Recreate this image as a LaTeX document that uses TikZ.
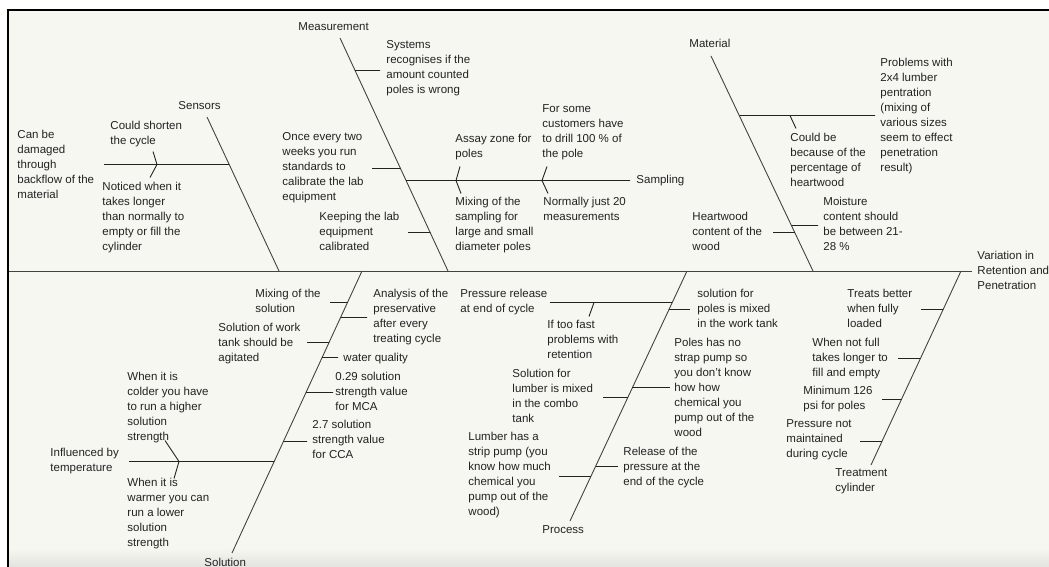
\documentclass[tikz,border=0pt]{standalone}
\usepackage{fontspec}
\setmainfont{Liberation Sans}
\usetikzlibrary{positioning}
\definecolor{paper}{HTML}{F7F7F2}
\definecolor{ink}{HTML}{222222}
% twig from (x,y) across to the bone #1 at the same height
\newcommand{\twig}[3]{\draw[twig] (#2,#3) -- (intersection of #1A--#1B and 0,#3--1,#3);}

\begin{document}
\begin{tikzpicture}[x=1pt, y=-1pt, font=\fontsize{11.5}{15}\selectfont, line width=.9pt,
    lbl/.style={anchor=north west, yshift=4.5pt, inner sep=0pt, align=left, text=ink},
    bone/.style={draw=ink!85},
    twig/.style={draw=ink, yshift=-.5pt}]
  \useasboundingbox (0,0) rectangle (1049,567);
  \fill[paper] (8,10) rectangle (1049,567);
  \shade[top color=paper, bottom color=paper!92!black] (9,548) rectangle (1049,567);
  \draw[black, line width=2pt] (7,10) -- (1049,10);
  \draw[black, line width=2pt] (8,10) -- (8,567);

  % spine and bones
  \coordinate (tail) at (9,271);
  \coordinate (head) at (972,271);
  \coordinate (senA) at (207,117);  \coordinate (senB) at (279,271);
  \coordinate (meaA) at (340,38);   \coordinate (meaB) at (448,271);
  \coordinate (matA) at (711,56);   \coordinate (matB) at (813,271);
  \coordinate (solA) at (232,553);  \coordinate (solB) at (362,271);
  \coordinate (proA) at (570,521);  \coordinate (proB) at (687,271);
  \coordinate (trtA) at (871,465);  \coordinate (trtB) at (961,271);
  \draw[bone, yshift=-.5pt] (tail) -- (head);
  \foreach \b in {sen,mea,mat,sol,pro,trt}
    \draw[bone] (\b A) -- (\b B);

  \node[lbl] (effect) at (977,255) {Variation in\\Retention and\\Penetration};

  % Sensors
  \node[lbl] (sensors) at (178,106) {Sensors};
  \node[lbl] (backflow) at (17,134) {Can be\\damaged\\through\\backflow of the\\material};
  \node[lbl] (shorten) at (110,125) {Could shorten\\the cycle};
  \node[lbl] (noticed) at (102,186) {Noticed when it\\takes longer\\than normally to\\empty or fill the\\cylinder};
  \twig{sen}{104}{164}
  \draw[twig] (153,151) -- (157,164) -- (150,177);

  % Measurement
  \node[lbl] (measure) at (298,27) {Measurement};
  \node[lbl] (counted) at (386,45) {Systems\\recognises if the\\amount counted\\poles is wrong};
  \node[lbl] (twoweeks) at (282,137) {Once every two\\weeks you run\\standards to\\calibrate the lab\\equipment};
  \node[lbl] (keeping) at (319,216) {Keeping the lab\\equipment\\calibrated};
  \node[lbl] (sampling) at (636,179) {Sampling};
  \node[lbl] (assay) at (455,138) {Assay zone for\\poles};
  \node[lbl] (mixsamp) at (455,201) {Mixing of the\\sampling for\\large and small\\diameter poles};
  \node[lbl] (drill) at (542,109) {For some\\customers have\\to drill 100 \% of\\the pole};
  \node[lbl] (twenty) at (543,201) {Normally just 20\\measurements};
  \twig{mea}{380}{70}
  \twig{mea}{372}{168}
  \twig{mea}{408}{232}
  \twig{mea}{630}{180}
  \draw[twig] (460,166) -- (456,180) -- (461,193);
  \draw[twig] (547,166) -- (542,180) -- (548,193);

  % Material
  \node[lbl] (material) at (689,43) {Material};
  \node[lbl] (lumber) at (880,62) {Problems with\\2x4 lumber\\pentration\\(mixing of\\various sizes\\seem to effect\\penetration\\result)};
  \node[lbl] (percent) at (790,137) {Could be\\because of the\\percentage of\\heartwood};
  \node[lbl] (heartwood) at (692,216) {Heartwood\\content of the\\wood};
  \node[lbl] (moisture) at (823,201) {Moisture\\content should\\be between 21-\\28 \%};
  \twig{mat}{875}{115}
  \twig{mat}{773}{232}
  \twig{mat}{818}{225}
  \draw[twig] (790,115) -- (796,128);

  % Solution
  \node[lbl] (solution) at (204,562) {Solution};
  \node[lbl] (mixsol) at (255,293) {Mixing of the\\solution};
  \node[lbl] (analysis) at (373,293) {Analysis of the\\preservative\\after every\\treating cycle};
  \node[lbl] (agitated) at (218,327) {Solution of work\\tank should be\\agitated};
  \node[lbl] (water) at (343,357) {water quality};
  \node[lbl] (mca) at (335,376) {0.29 solution\\strength value\\for MCA};
  \node[lbl] (cca) at (312,424) {2.7 solution\\strength value\\for CCA};
  \node[lbl] (colder) at (127,376) {When it is\\colder you have\\to run a higher\\solution\\strength};
  \node[lbl] (temp) at (50,452) {Influenced by\\temperature};
  \node[lbl] (warmer) at (127,482) {When it is\\warmer you can\\run a lower\\solution\\strength};
  \twig{sol}{330}{302}
  \twig{sol}{367}{317}
  \twig{sol}{307}{342}
  \twig{sol}{338}{357}
  \twig{sol}{333}{392}
  \twig{sol}{307}{441}
  \twig{sol}{129}{461}
  \draw[twig] (165,440) -- (179,461) -- (174,478);

  % Process
  \node[lbl] (process) at (542,530) {Process};
  \node[lbl] (release) at (460,293) {Pressure release\\at end of cycle};
  \node[lbl] (toofast) at (547,324) {If too fast\\problems with\\retention};
  \node[lbl] (worktank) at (697,293) {solution for\\poles is mixed\\in the work tank};
  \node[lbl] (nostrap) at (674,342) {Poles has no\\strap pump so\\you don't know\\how how\\chemical you\\pump out of the\\wood};
  \node[lbl] (combo) at (512,373) {Solution for\\lumber is mixed\\in the combo\\tank};
  \node[lbl] (strip) at (468,436) {Lumber has a\\strip pump (you\\know how much\\chemical you\\pump out of the\\wood)};
  \node[lbl] (endcycle) at (623,451) {Release of the\\pressure at the\\end of the cycle};
  \twig{pro}{550}{302}
  \twig{pro}{690}{309}
  \twig{pro}{670}{387}
  \twig{pro}{603}{397}
  \twig{pro}{618}{466}
  \twig{pro}{559}{476}
  \draw[twig] (594,302) -- (589,316);

  % Treatment cylinder
  \node[lbl] (cylinder) at (835,473) {Treatment\\cylinder};
  \node[lbl] (loaded) at (847,293) {Treats better\\when fully\\loaded};
  \node[lbl] (notfull) at (812,342) {When not full\\takes longer to\\fill and empty};
  \node[lbl] (psi) at (803,390) {Minimum 126\\psi for poles};
  \node[lbl] (maintain) at (786,424) {Pressure not\\maintained\\during cycle};
  \twig{trt}{921}{309}
  \twig{trt}{898}{358}
  \twig{trt}{882}{399}
  \twig{trt}{860}{441}
\end{tikzpicture}
\end{document}
